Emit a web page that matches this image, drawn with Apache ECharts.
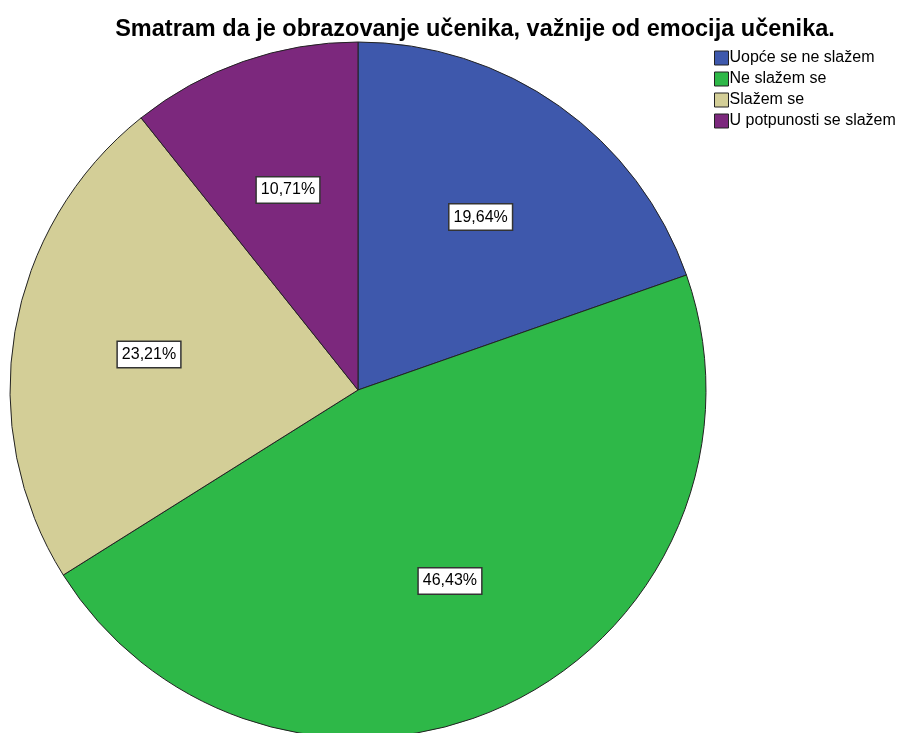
<!DOCTYPE html>
<html><head><meta charset="utf-8">
<script src="https://cdn.jsdelivr.net/npm/echarts@6/dist/echarts.min.js"></script>
<style>html,body{margin:0;padding:0;background:#fff}#c{width:901px;height:733px}</style>
</head><body><div id="c"></div>
<script>
const categories = ['Uopće se ne slažem', 'Ne slažem se', 'Slažem se', 'U potpunosti se slažem'];
const values = [19.64, 46.43, 23.21, 10.71];
const colors = ['#3E58AC', '#2EB848', '#D3CE97', '#7C287D'];
const titleText = 'Smatram da je obrazovanje učenika, važnije od emocija učenika.';

const data = categories.map((n, i) => ({ name: n, value: values[i], itemStyle: { color: colors[i] } }));
const chart = echarts.init(document.getElementById('c'));
const fmt = p => p.value.toFixed(2).replace('.', ',') + '%';
chart.setOption({
  animation: false,
  title: { text: titleText, left: 470, top: 13, textAlign: 'center',
    textStyle: { fontFamily: 'Liberation Sans', fontSize: 23.5, fontWeight: 'bold', color: '#000' } },
  legend: { orient: 'vertical', left: 709, top: 45, itemWidth: 14, itemHeight: 14, itemGap: 5,
    icon: 'rect', data: categories,
    itemStyle: { borderColor: '#222', borderWidth: 1 },
    textStyle: { fontFamily: 'Liberation Sans', fontSize: 16, color: '#000', padding: [0,0,0,-4] } },
  series: [
    { type: 'pie', center: [358, 390], radius: 348, startAngle: 90, clockwise: true,
      data: data, label: { show: false }, labelLine: { show: false },
      itemStyle: { borderColor: '#222', borderWidth: 1 }, emphasis: { disabled: true } },
    { type: 'pie', center: [358, 390], radius: 418, startAngle: 90, clockwise: true, silent: true,
      data: data.map(d => ({ name: d.name, value: d.value, itemStyle: { color: 'rgba(0,0,0,0)' } })),
      itemStyle: { borderWidth: 0 }, emphasis: { disabled: true },
      label: { show: true, position: 'inside', formatter: fmt, fontFamily: 'Liberation Sans', fontSize: 16,
        color: '#000', backgroundColor: '#fff', borderColor: '#333', borderWidth: 1.5, padding: [5, 4, 4, 4] },
      labelLine: { show: false } }
  ]
});
</script></body></html>
